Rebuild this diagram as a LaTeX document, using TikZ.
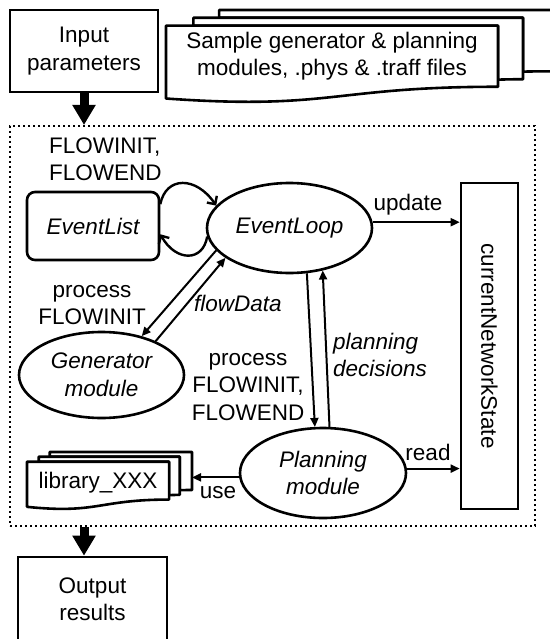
\documentclass[tikz,border=0pt]{standalone}
\usepackage{fontspec}
\setmainfont{Liberation Sans}
\usetikzlibrary{arrows.meta,shapes.geometric}

% stacked documents: #1,#2 = top-left corner, #3 = width, #4 = height
\newcommand\multidoc[4]{%
  \begin{scope}[shift={(#1,#2)}, xscale=#3, yscale=#4]
    \draw[doc] (0.1376,0) -- (1,0) -- (1,0.6663)
      .. controls (0.9630,0.6663) and (0.9259,0.6698) .. (0.9259,0.6698)
      -- (0.9259,0.0840) -- (0.1376,0.0840) -- cycle;
    \draw[doc] (0.0709,0.0840) -- (0.9259,0.0840) -- (0.9259,0.7524)
      .. controls (0.8934,0.7524) and (0.8609,0.7570) .. (0.8609,0.7570)
      -- (0.8609,0.1701) -- (0.0709,0.1701) -- cycle;
    \draw[doc] (0,0.1701) -- (0.8609,0.1701) -- (0.8609,0.8344)
      .. controls (0.4305,0.8344) and (0.4305,1.0899) .. (0,0.9621) -- cycle;
  \end{scope}}

\begin{document}
\begin{tikzpicture}[x=1pt,y=-1pt,
  every node/.style={font=\fontsize{22.5}{27.5}\selectfont, inner sep=0pt, align=center},
  itl/.style={font=\fontsize{22.5}{27.5}\selectfont\itshape},
  plainbox/.style={draw, line width=2.6pt, fill=white},
  oval/.style={ellipse, draw, line width=2.6pt, itl},
  frame/.style={draw, line width=2pt, dash pattern=on 2pt off 3pt},
  doc/.style={draw, line width=2.6pt, fill=white, line join=round},
  fat/.style={line width=9pt, -{Triangle[width=22pt,length=20pt]}},
  arr/.style={line width=2pt, -{Triangle[width=8pt,length=9pt]}},
  looparr/.style={line width=2.4pt, -{Straight Barb[width=12pt,length=6pt]}},
]
\useasboundingbox (0,0) rectangle (549,639);

% inputs
\node[plainbox, minimum width=148pt, minimum height=82pt] (inp) at (84,51) {Input\\parameters};
\multidoc{166}{10}{385.6}{92}
\node (src) at (332,56) {Sample generator \& planning\\modules, .phys \& .traff files};

% simulator frame
\node[frame, minimum width=525pt, minimum height=400pt] (frm) at (272.5,326) {};

% core blocks
\node[plainbox, rounded corners=8pt, minimum width=132pt, minimum height=68pt, itl] (el) at (93,226) {EventList};
\node[oval, minimum width=165pt, minimum height=90pt] (lp) at (289.5,228) {EventLoop};
\node[oval, minimum width=165pt, minimum height=86pt] (gen) at (101.5,375) {Generator\\module};
\node[oval, minimum width=166pt, minimum height=90pt] (pl) at (323,473) {Planning\\module};
\node[plainbox, minimum width=57pt, minimum height=326pt] (ns) at (489.5,346) {};
\node[rotate=-90] (nstext) at (ns.center) {currentNetworkState};

% algorithm library
\multidoc{27}{452}{165}{57}
\node (lib) at (98,483) {library\_XXX};
\coordinate (libR) at (192,477);

% output
\node[plainbox, minimum width=149pt, minimum height=84pt] (out) at (92.5,599) {Output\\results};

% big flow arrows
\draw[fat] (inp.south) -- (inp.south |- frm.north);
\draw[fat] (frm.south -| inp.south) -- (inp.south |- out.north);

% event list loop
\draw[looparr] (el.18) .. controls (166,176) and (196,176) .. (lp.163);
\draw[looparr] (lp.186) .. controls (203,262) and (176,262) .. (el.-7);

% generator exchange
\draw[arr] (lp.197) -- (gen.44);
\draw[arr] (gen.32) -- (lp.205);

% planning exchange
\draw[arr] (lp.291) -- (pl.100);
\draw[arr] (pl.82) -- (lp.-52);

% state and library access
\draw[arr] (lp.4) -- (lp.4 -| ns.west);
\draw[arr] (pl.3) -- (pl.3 -| ns.west);
\draw[arr] (pl.183) -- (pl.183 -| libR);

% labels
\node[anchor=west, align=left] (lflow) at (49,159.5) {FLOWINIT,\\FLOWEND};
\node (lproc1) at (92,305) {process\\FLOWINIT};
\node[itl] (lfd) at (238,303) {flowData};
\node (lproc2) at (248,387) {process\\FLOWINIT,\\FLOWEND};
\node[itl, anchor=west, align=left] (lplan) at (333,355) {planning\\decisions};
\node (lupd) at (408,205) {update};
\node (lread) at (428,452) {read};
\node (luse) at (218,493) {use};
\end{tikzpicture}
\end{document}
